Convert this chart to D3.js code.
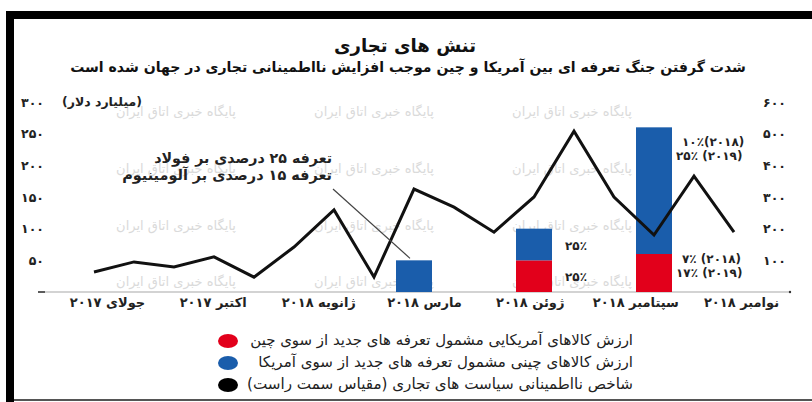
<!DOCTYPE html>
<html lang="fa">
<head>
<meta charset="utf-8">
<script src="https://cdn.jsdelivr.net/npm/d3@7/dist/d3.min.js"></script>
<style>
  html, body { margin: 0; padding: 0; background: #fff; }
  svg { display: block; font-family: "DejaVu Sans", "Noto Sans", sans-serif; }
</style>
</head>
<body>
<svg id="chart" width="812" height="402"></svg>
<script>
// ---- data ----
const months = ["2017-07","2017-08","2017-09","2017-10","2017-11","2017-12",
                "2018-01","2018-02","2018-03","2018-04","2018-05","2018-06",
                "2018-07","2018-08","2018-09","2018-10","2018-11"];
// trade policy uncertainty index (right scale)
const uncertainty = [63, 95, 79, 111, 47, 142, 259, 47, 325, 268, 189, 300, 508, 300, 180, 366, 189];
// value of US goods hit by new Chinese tariffs (billion $), red
const usGoodsMonths = ["2018-06", "2018-09"];
const usGoodsValues = [50, 60];
// value of Chinese goods hit by new US tariffs (billion $), blue
const cnGoodsMonths = ["2018-03", "2018-06", "2018-09"];
const cnGoodsValues = [50, 50, 200];

const xTickLabels = ["جولای ۲۰۱۷", "اکتبر ۲۰۱۷", "ژانویه ۲۰۱۸", "مارس ۲۰۱۸",
                     "ژوئن ۲۰۱۸", "سپتامبر ۲۰۱۸", "نوامبر ۲۰۱۸"];
const leftTicks = [0, 50, 100, 150, 200, 250, 300];
const rightTicks = [100, 200, 300, 400, 500, 600];
const legendLabels = ["ارزش کالاهای آمریکایی مشمول تعرفه های جدید از سوی چین",
                      "ارزش کالاهای چینی مشمول تعرفه های جدید از سوی آمریکا",
                      "شاخص نااطمینانی سیاست های تجاری (مقیاس سمت راست)"];
const title = "تنش های تجاری";
const subtitle = "شدت گرفتن جنگ تعرفه ای بین آمریکا و چین موجب افزایش نااطمینانی تجاری در جهان شده است";
const noteLines = ["تعرفه ۲۵ درصدی بر فولاد", "تعرفه ۱۵ درصدی بر آلومینیوم"];
const watermark = "پایگاه خبری اتاق ایران";

const RED = "#e2001b", BLUE = "#1a5dab";

const fa = n => String(n).replace(/\d/g, d => "۰۱۲۳۴۵۶۷۸۹"[d]);

const svg = d3.select("#chart");

// scales
const x = d3.scalePoint().domain(months).range([94, 734]);
const xLab = d3.scalePoint().domain(xTickLabels).range([107, 741]);
const yL = d3.scaleLinear().domain([0, 300]).range([292, 102]);
const yR = d3.scaleLinear().domain([0, 600]).range([292, 102]);

// frame
svg.append("rect").attr("x", 6).attr("y", 11).attr("width", 806).attr("height", 8).attr("fill", "#000");
svg.append("rect").attr("x", 6).attr("y", 11).attr("width", 8).attr("height", 391).attr("fill", "#000");
svg.append("rect").attr("x", 14).attr("y", 399).attr("width", 798).attr("height", 2).attr("fill", "#555");

// helper: scale font size so the text spans the wanted width
function fit(sel, w) {
  sel.each(function () {
    const len = this.getComputedTextLength();
    const fs = parseFloat(d3.select(this).attr("font-size"));
    if (len > 0) d3.select(this).attr("font-size", (fs * w / len).toFixed(2));
  });
  return sel;
}

// titles
svg.append("text").attr("x", 405).attr("y", 52).attr("text-anchor", "middle")
  .attr("font-size", 21).attr("font-weight", "bold").attr("fill", "#111").text(title)
  .call(fit, 142);
svg.append("text").attr("x", 408).attr("y", 72).attr("text-anchor", "middle")
  .attr("font-size", 12).attr("font-weight", "bold").attr("fill", "#111").text(subtitle)
  .call(fit, 676);

// watermark grid
const wmCols = [176, 374, 572], wmRows = [113, 170, 227, 283];
wmRows.forEach(r => wmCols.forEach(c => {
  svg.append("text").attr("x", c).attr("y", r + 3).attr("text-anchor", "middle")
    .attr("font-size", 10).attr("fill", "#dadada").text(watermark).call(fit, 120);
}));

// baseline
svg.append("line").attr("x1", 38).attr("x2", 790).attr("y1", yL(0)).attr("y2", yL(0))
  .attr("stroke", "#c4c4c4").attr("stroke-width", 1.5);
svg.append("line").attr("x1", 38).attr("x2", 45).attr("y1", yL(0)).attr("y2", yL(0))
  .attr("stroke", "#333").attr("stroke-width", 1.5);
svg.append("circle").attr("cx", 790).attr("cy", yR(0)).attr("r", 1.2).attr("fill", "#333");

// left axis
const axisL = d3.axisLeft(yL).tickValues(leftTicks.filter(d => d > 0)).tickSize(0).tickFormat(fa);
const gL = svg.append("g").attr("transform", "translate(47,0)").call(axisL);
gL.select(".domain").remove();
gL.selectAll("text").attr("font-size", 12.5).attr("font-weight", "bold")
  .attr("fill", "#222").attr("font-family", "DejaVu Sans").attr("letter-spacing", 3.5);
svg.append("text").attr("x", 142).attr("y", 106).attr("text-anchor", "end")
  .attr("font-size", 11).attr("font-weight", "bold").attr("fill", "#222")
  .text("(میلیارد دلار)").call(fit, 80);

// right axis
const axisR = d3.axisRight(yR).tickValues(rightTicks).tickSize(0).tickFormat(fa);
const gR = svg.append("g").attr("transform", "translate(760,0)").call(axisR);
gR.select(".domain").remove();
gR.selectAll("text").attr("font-size", 12.5).attr("font-weight", "bold")
  .attr("fill", "#222").attr("font-family", "DejaVu Sans").attr("letter-spacing", 3.5);

// bottom category labels
const axisB = d3.axisBottom(xLab).tickSize(0);
const gB = svg.append("g").attr("transform", `translate(0,${yL(0)})`).call(axisB);
gB.select(".domain").remove();
gB.selectAll("text").attr("font-size", 13).attr("font-weight", "bold")
  .attr("fill", "#222").attr("font-family", "DejaVu Sans").attr("dy", "0.95em")
  .attr("letter-spacing", 0.8);

// stacked bars: red at the bottom, blue on top
const barW = 36;
const stackRows = months.map(m => {
  const ri = usGoodsMonths.indexOf(m), bi = cnGoodsMonths.indexOf(m);
  return { month: m, us: ri >= 0 ? usGoodsValues[ri] : 0, cn: bi >= 0 ? cnGoodsValues[bi] : 0 };
});
const series = d3.stack().keys(["us", "cn"])(stackRows);
const colors = { us: RED, cn: BLUE };
series.forEach(s => {
  svg.append("g").selectAll("rect")
    .data(s.filter(d => d[1] > d[0]))
    .join("rect")
    .attr("x", d => x(d.data.month) - barW / 2)
    .attr("width", barW)
    .attr("y", d => yL(d[1]))
    .attr("height", d => yL(d[0]) - yL(d[1]))
    .attr("fill", colors[s.key]);
});

// uncertainty line
const line = d3.line().x((d, i) => x(months[i])).y(d => yR(d));
svg.append("path").datum(uncertainty).attr("d", line)
  .attr("fill", "none").attr("stroke", "#111").attr("stroke-width", 3)
  .attr("stroke-linejoin", "miter");

// annotation for the steel/aluminium tariffs
noteLines.forEach((t, i) => {
  svg.append("text").attr("x", 332).attr("y", 163 + i * 17).attr("text-anchor", "end")
    .attr("font-size", 14).attr("font-weight", "bold").attr("fill", "#222").text(t)
    .call(fit, i === 0 ? 178 : 210);
});
const marX = x("2018-03");
svg.append("line").attr("x1", marX - 81).attr("y1", 189)
  .attr("x2", marX - 4).attr("y2", yL(cnGoodsValues[0]) - 2)
  .attr("stroke", "#444").attr("stroke-width", 1.2);

// tariff rate labels next to bars
const rateStyle = s => s.attr("font-size", 12).attr("font-weight", "bold").attr("fill", "#222")
  .attr("direction", "ltr").attr("text-anchor", "start").attr("letter-spacing", 2.2);
const junX = x("2018-06") + barW / 2 + 13;
svg.append("text").attr("x", junX).attr("y", (yL(50) + yL(100)) / 2 + 5).text("۲۵٪").call(rateStyle);
svg.append("text").attr("x", junX).attr("y", (yL(0) + yL(50)) / 2 + 5).text("۲۵٪").call(rateStyle);
const sepX = x("2018-09") + barW / 2 + 4;
const sepTop = yL(usGoodsValues[1] + cnGoodsValues[2]);
const sepMid = yL(usGoodsValues[1]);
svg.append("text").attr("x", sepX + 6).attr("y", sepTop + 19).text("۱۰٪(۲۰۱۸)").call(rateStyle);
svg.append("text").attr("x", sepX).attr("y", sepTop + 33).text("۲۵٪ (۲۰۱۹)").call(rateStyle);
svg.append("text").attr("x", sepX + 6).attr("y", sepMid + 9).text("۷٪ (۲۰۱۸)").call(rateStyle);
svg.append("text").attr("x", sepX).attr("y", sepMid + 23).text("۱۷٪ (۲۰۱۹)").call(rateStyle);

// legend
const legColors = [RED, BLUE, "#000"];
const legWidths = [383, 375, 386];
legendLabels.forEach((t, i) => {
  const cy = 341 + i * 22;
  svg.append("ellipse").attr("cx", 228).attr("cy", cy).attr("rx", 10).attr("ry", 7)
    .attr("fill", legColors[i]);
  svg.append("text").attr("x", 633).attr("y", cy + 4).attr("text-anchor", "end")
    .attr("font-size", 12).attr("fill", "#222").text(t).call(fit, legWidths[i]);
});
</script>
</body>
</html>
